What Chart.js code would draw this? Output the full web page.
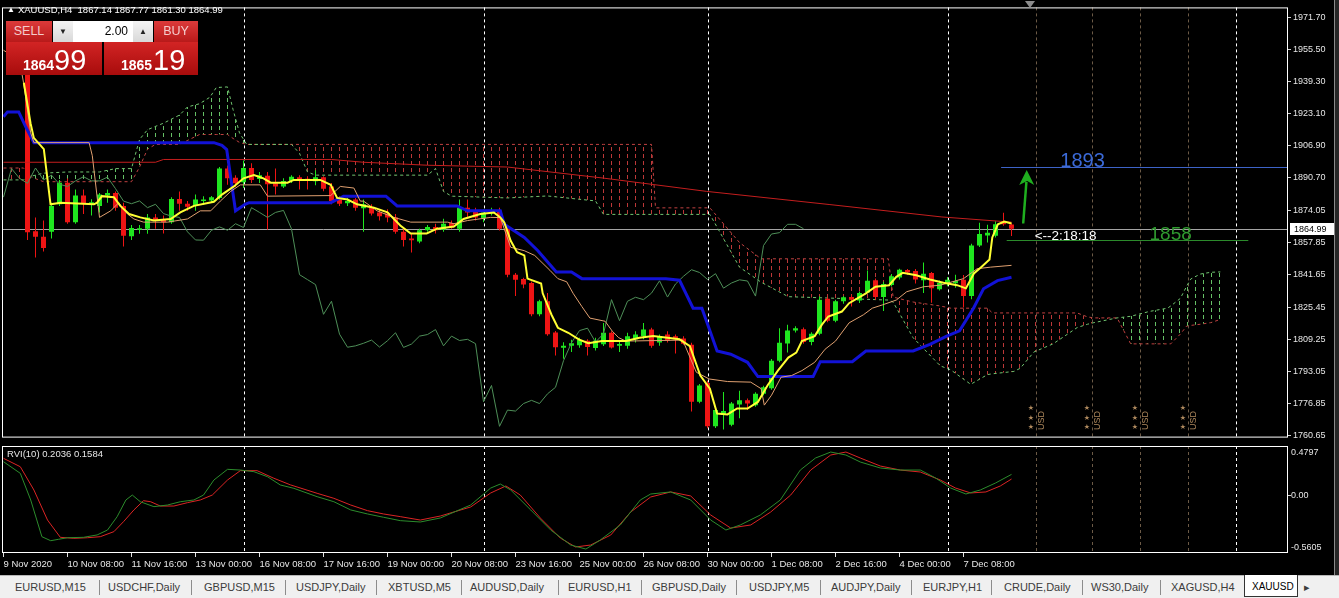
<!DOCTYPE html>
<html>
<head>
<meta charset="utf-8">
<title>XAUUSD,H4</title>
<script src="https://cdn.jsdelivr.net/npm/chart.js@4.4.0/dist/chart.umd.min.js"></script>
<style>
	html, body { margin: 0; padding: 0; background: #000; }
	body { width: 1339px; height: 598px; position: relative; overflow: hidden; font-family: "Liberation Sans", Arial, sans-serif; }
	canvas { position: absolute; left: 0; }
	#main { top: 0; }
	#rvi { top: 444px; }
	#title { position: absolute; left: 7px; top: 4px; color: #fff; font-size: 9.5px; white-space: pre; }
	#title .tri { font-size: 8px; position: relative; top: -1px; margin-right: 3px; }
	#trade div { position: absolute; }
	.redlbl { background: linear-gradient(#dc3a3a, #b81a1a); color: #f4cccc; font-size: 12.5px; text-align: center; line-height: 21px; border-bottom: 1px solid #e06060; height: 21px; }
	.redpx { background: linear-gradient(#d22424, #a80c0c); color: #fff; height: 33px; }
	.redpx b { position: absolute; font-size: 14px; left: 17px; top: 15px; }
	.redpx span { position: absolute; font-size: 29px; top: 2px; }
	#lot { left: 53px; top: 21px; width: 100px; height: 21px; background: #fff; }
	#lot .btn { top: 0; width: 20px; height: 21px; background: linear-gradient(#f4f4f4, #d8d8d8); color: #222; font-size: 8px; text-align: center; line-height: 21px; }
	#lot .val { left: 20px; width: 55px; text-align: right; font-size: 12px; line-height: 21px; color: #000; }
	#shift { position: absolute; left: 1025px; top: 1px; width: 0; height: 0; border-left: 5px solid transparent; border-right: 5px solid transparent; border-top: 7px solid #8c8c8c; }
	#tabs { position: absolute; left: 0; top: 575px; width: 1339px; height: 23px; background: #f0f0f0; border-top: 1px solid #b8b8b8; }
	#tabs span { position: absolute; top: 5px; font-size: 11px; color: #3c3c3c; white-space: nowrap; }
	#tabs i { position: absolute; top: 4px; width: 1px; height: 15px; background: #8c8c8c; }
	#tabs .active { position: absolute; top: -1px; left: 1244px; width: 52px; height: 21px; background: #fff; border: 1px solid #333; border-top: none; }
	#tabs .active span { left: 7px; top: 6px; color: #000; font-size: 10px; }
	#scroll { position: absolute; left: 1334px; top: 0; width: 4px; height: 575px; background: #262626; border-left: 1px solid #8a8a8a; }
</style>
</head>
<body>
<canvas id="main" width="1339" height="445"></canvas>
<canvas id="rvi" width="1339" height="131"></canvas>

<div id="title"><span class="tri">▲</span>XAUUSD,H4  1867.14 1867.77 1861.30 1864.99</div>
<div id="shift"></div>
<div id="trade">
	<div class="redlbl" style="left:6px;top:21px;width:46px;">SELL</div>
	<div id="lot">
		<div class="btn" style="left:0;">▼</div>
		<div class="val">2.00</div>
		<div class="btn" style="left:80px;">▲</div>
	</div>
	<div class="redlbl" style="left:154px;top:21px;width:44px;">BUY</div>
	<div class="redpx" style="left:6px;top:42px;width:96px;"><b>1864</b><span style="left:48px;">99</span></div>
	<div class="redpx" style="left:104px;top:42px;width:94px;"><b>1865</b><span style="left:49px;">19</span></div>
</div>
<div id="tabs"></div>
<div id="scroll"></div>

<script>
// price axis labels and time labels
var priceTicks = [1971.70, 1955.50, 1939.30, 1923.10, 1906.90, 1890.70, 1874.05, 1857.85, 1841.65, 1825.45, 1809.25, 1793.05, 1776.85, 1760.65];
var timeIdx = [0, 8, 16, 24, 32, 40, 48, 56, 64, 72, 80, 88, 96, 104, 112, 120];
var timeLabels = ['9 Nov 2020', '10 Nov 08:00', '11 Nov 16:00', '13 Nov 00:00', '16 Nov 08:00', '17 Nov 16:00', '19 Nov 00:00', '20 Nov 08:00',
	'23 Nov 16:00', '25 Nov 00:00', '26 Nov 08:00', '30 Nov 00:00', '1 Dec 08:00', '2 Dec 16:00', '4 Dec 00:00', '7 Dec 08:00'];

// H4 candles, bar 1 .. bar 126
var firstBar = 1;
var opens = [
	1953.5, 1956.8, 1959.5, 1863.7, 1860.9, 1863.4, 1877.3, 1888.2, 1868.3, 1881.7,
	1877.3, 1876.5, 1881.7, 1883.0, 1876.5, 1861.2, 1864.4, 1864.9, 1870.7, 1869.9,
	1868.3, 1880.0, 1877.6, 1876.5, 1878.9, 1879.2, 1880.5, 1895.3, 1890.7, 1888.4,
	1895.6, 1890.0, 1891.7, 1887.9, 1886.3, 1889.1, 1891.0, 1890.2, 1888.9, 1891.0,
	1886.3, 1879.7, 1877.8, 1879.7, 1875.3, 1875.6, 1873.2, 1872.6, 1870.7, 1863.4,
	1860.0, 1858.5, 1864.2, 1865.9, 1864.5, 1867.8, 1864.9, 1875.6, 1873.9, 1870.2,
	1872.9, 1874.0, 1864.9, 1841.8, 1839.6, 1837.6, 1821.8, 1828.4, 1812.6, 1804.9,
	1805.9, 1806.2, 1808.5, 1804.8, 1806.7, 1812.5, 1806.0, 1805.9, 1809.2, 1810.8,
	1814.1, 1807.6, 1811.6, 1810.8, 1809.6, 1806.5, 1777.7, 1787.2, 1765.3, 1771.0,
	1766.1, 1776.3, 1778.4, 1776.0, 1781.7, 1784.5, 1798.4, 1807.1, 1813.6, 1814.3,
	1807.8, 1812.0, 1829.6, 1818.6, 1828.4, 1830.6, 1828.8, 1832.8, 1839.0, 1830.5,
	1836.6, 1840.4, 1844.2, 1843.6, 1839.0, 1842.7, 1834.4, 1837.6, 1837.5, 1839.2,
	1831.0, 1856.5, 1861.5, 1861.4, 1868.6, 1867.14
];
var highs = [
	1958.0, 1965.0, 1962.0, 1870.7, 1869.1, 1878.1, 1889.6, 1890.3, 1884.7, 1884.7,
	1879.8, 1883.0, 1884.7, 1883.8, 1878.1, 1866.8, 1866.8, 1872.4, 1872.4, 1871.6,
	1880.8, 1883.8, 1878.9, 1882.2, 1881.3, 1881.5, 1896.1, 1896.9, 1892.0, 1899.4,
	1898.0, 1893.6, 1893.6, 1895.3, 1890.4, 1892.0, 1892.0, 1891.5, 1894.5, 1891.5,
	1888.0, 1881.3, 1880.5, 1880.5, 1879.7, 1877.3, 1874.8, 1874.8, 1872.4, 1865.9,
	1862.6, 1865.0, 1866.8, 1867.5, 1870.0, 1869.1, 1879.7, 1879.7, 1875.6, 1874.8,
	1875.6, 1875.6, 1866.0, 1842.6, 1840.2, 1838.4, 1829.2, 1832.5, 1813.4, 1807.7,
	1809.0, 1810.0, 1809.2, 1810.0, 1817.4, 1813.3, 1808.6, 1812.5, 1813.3, 1817.4,
	1815.0, 1811.6, 1813.3, 1811.6, 1810.8, 1807.4, 1786.6, 1788.3, 1774.3, 1782.6,
	1777.6, 1783.3, 1779.3, 1782.5, 1785.8, 1799.3, 1814.8, 1816.5, 1815.8, 1815.1,
	1812.8, 1830.8, 1830.4, 1829.2, 1831.1, 1831.7, 1833.3, 1843.9, 1839.9, 1838.2,
	1842.1, 1844.8, 1844.7, 1844.7, 1848.0, 1843.1, 1838.9, 1840.6, 1841.8, 1841.6,
	1857.4, 1868.0, 1867.0, 1868.8, 1873.0, 1867.77
];
var lows = [
	1951.0, 1955.0, 1859.3, 1850.4, 1853.5, 1860.1, 1876.5, 1867.5, 1867.5, 1872.4,
	1871.6, 1873.2, 1878.1, 1874.0, 1856.0, 1859.3, 1862.4, 1862.4, 1864.9, 1862.6,
	1867.5, 1874.0, 1874.0, 1874.0, 1877.0, 1878.5, 1879.7, 1887.1, 1886.0, 1885.5,
	1888.0, 1888.0, 1864.5, 1882.2, 1885.5, 1888.0, 1884.7, 1884.7, 1886.9, 1883.9,
	1877.3, 1876.5, 1876.5, 1874.0, 1863.4, 1871.6, 1869.1, 1868.3, 1862.4, 1856.0,
	1853.0, 1857.7, 1863.4, 1862.6, 1863.4, 1864.9, 1863.4, 1870.7, 1869.1, 1868.3,
	1871.6, 1864.1, 1840.5, 1831.0, 1835.0, 1820.8, 1820.8, 1811.0, 1801.0, 1799.4,
	1802.8, 1805.0, 1801.0, 1803.6, 1805.8, 1804.6, 1802.8, 1804.4, 1807.6, 1809.2,
	1805.0, 1805.9, 1807.6, 1802.1, 1806.5, 1772.8, 1776.9, 1764.3, 1764.5, 1763.7,
	1765.3, 1769.4, 1773.5, 1775.2, 1780.9, 1783.7, 1797.6, 1802.5, 1812.6, 1806.9,
	1806.2, 1811.2, 1817.8, 1817.8, 1827.1, 1825.8, 1827.5, 1832.5, 1829.2, 1823.5,
	1835.8, 1839.4, 1841.8, 1837.4, 1832.5, 1827.6, 1833.8, 1836.0, 1835.2, 1825.3,
	1829.4, 1855.7, 1858.0, 1860.6, 1866.5, 1861.30
];
var closes = [
	1956.8, 1959.5, 1863.2, 1860.9, 1855.2, 1876.5, 1888.2, 1868.3, 1881.7, 1877.6,
	1878.3, 1882.2, 1883.0, 1875.6, 1861.4, 1865.3, 1865.2, 1870.7, 1869.1, 1868.3,
	1880.0, 1877.6, 1876.0, 1879.7, 1879.7, 1880.9, 1895.3, 1890.4, 1887.9, 1895.6,
	1889.6, 1892.0, 1887.4, 1886.3, 1889.1, 1891.2, 1889.1, 1889.1, 1891.0, 1885.2,
	1878.9, 1877.6, 1879.0, 1875.6, 1877.3, 1872.6, 1871.3, 1870.7, 1863.4, 1859.3,
	1859.2, 1864.2, 1865.9, 1864.2, 1867.5, 1865.6, 1875.6, 1873.2, 1870.7, 1873.2,
	1874.2, 1864.9, 1841.8, 1839.3, 1836.8, 1821.8, 1828.4, 1811.8, 1805.2, 1805.9,
	1807.2, 1808.8, 1805.3, 1808.5, 1812.5, 1805.1, 1806.8, 1810.8, 1811.6, 1814.1,
	1805.9, 1810.8, 1808.6, 1809.2, 1807.0, 1777.7, 1785.9, 1765.3, 1773.5, 1773.0,
	1776.8, 1778.4, 1776.8, 1781.7, 1785.0, 1798.4, 1807.5, 1813.6, 1814.8, 1807.8,
	1812.0, 1829.2, 1818.6, 1828.4, 1830.4, 1829.2, 1832.5, 1838.7, 1830.5, 1837.1,
	1841.0, 1844.3, 1842.9, 1839.4, 1842.3, 1835.0, 1837.6, 1839.2, 1838.6, 1831.0,
	1856.5, 1862.3, 1863.0, 1867.2, 1867.2, 1864.99
];

// Ichimoku cloud (senkou A / B), shared bar positions
var cloudIdx = [0, 2.5, 3.5, 5, 8, 12, 14, 16, 17, 18, 19, 20, 22, 23, 24.5, 25.8, 26.6, 28, 28.7, 29.5, 30.4, 36, 37, 38, 39, 53, 54, 55, 56, 63, 68, 74, 75,
	81, 81.5, 88.3, 92, 94.7, 98.1, 110.6, 111.2, 113.7, 117.1, 118.4, 120.9, 123, 123.6, 126.3, 127.1, 128.8, 131.2, 133, 134.2, 135.5, 136.3, 139.2,
	140.9, 143.3, 145.5, 145.9, 147.1, 147.9, 148.4, 149.6, 150.9, 152.1];
var spanA = [1889.6, 1889.6, 1891.5, 1893.0, 1893.6, 1893.6, 1895.3, 1895.3, 1910.0, 1914.9, 1916.6, 1918.2, 1922.3, 1926.4, 1928.0, 1931.3, 1936.2, 1936.5, 1925.0, 1913.3, 1907.5, 1907.5, 1903.0, 1893.6, 1892.0, 1892.0, 1895.3, 1883.8, 1881.4, 1880.5, 1881.5, 1879.0, 1872.2,
	1872.2, 1872.2, 1872.2, 1845.6, 1838.0, 1830.7, 1829.0, 1828.0, 1810.0, 1795.8, 1793.8, 1786.5, 1791.4, 1791.8, 1793.0, 1794.6, 1802.8, 1806.9, 1811.8, 1815.1, 1816.8, 1817.6, 1820.0,
	1820.8, 1823.3, 1824.9, 1826.0, 1829.8, 1836.0, 1839.6, 1842.1, 1843.0, 1843.2];
var spanB = [1895.6, 1895.6, 1891.0, 1888.7, 1888.7, 1888.7, 1888.7, 1888.7, 1896.0, 1905.1, 1907.5, 1907.5, 1907.5, 1909.5, 1912.5, 1912.5, 1912.5, 1912.5, 1910.5, 1908.5, 1907.5, 1907.5, 1907.5, 1907.5, 1907.5, 1907.5, 1907.5, 1907.5, 1907.5, 1907.5, 1907.5, 1907.5, 1907.5,
	1907.5, 1875.5, 1875.5, 1858.0, 1849.8, 1849.8, 1849.8, 1830.5, 1828.0, 1826.0, 1824.9, 1824.9, 1824.9, 1822.5, 1822.5, 1822.5, 1822.5, 1822.5, 1822.5, 1822.5, 1820.5, 1820.0, 1820.0,
	1806.9, 1806.9, 1806.9, 1806.9, 1811.8, 1815.9, 1816.2, 1816.8, 1817.6, 1819.2];

// chikou span (bars 0 .. 100)
var chikou = [
	1880.9, 1895.3, 1890.4, 1887.9, 1895.6, 1889.6, 1892.0, 1887.4, 1886.3, 1889.1,
	1891.2, 1889.1, 1889.1, 1891.0, 1885.2, 1878.9, 1877.6, 1879.0, 1875.6, 1877.3,
	1872.6, 1871.3, 1870.7, 1863.4, 1859.3, 1859.2, 1864.2, 1865.9, 1864.2, 1867.5,
	1865.6, 1875.6, 1873.2, 1870.7, 1873.2, 1874.2, 1864.9, 1841.8, 1839.3, 1836.8,
	1821.8, 1828.4, 1811.8, 1805.2, 1805.9, 1807.2, 1808.8, 1805.3, 1808.5, 1812.5,
	1805.1, 1806.8, 1810.8, 1811.6, 1814.1, 1805.9, 1810.8, 1808.6, 1809.2, 1807.0,
	1777.7, 1785.9, 1765.3, 1773.5, 1773.0, 1776.8, 1778.4, 1776.8, 1781.7, 1785.0,
	1798.4, 1807.5, 1813.6, 1814.8, 1807.8, 1812.0, 1829.2, 1818.6, 1828.4, 1830.4,
	1829.2, 1832.5, 1838.7, 1830.5, 1837.1, 1841.0, 1844.3, 1842.9, 1839.4, 1842.3,
	1835.0, 1837.6, 1839.2, 1838.6, 1831.0, 1856.5, 1862.3, 1863.0, 1867.2, 1867.2,
	1864.99
];

// lines as [bar, price]
var kijun = [[0, 1921.5], [0.5, 1923.9], [1.9, 1923.9], [2.75, 1916.6], [3.8, 1908.4], [26.3, 1908.4], [27.3, 1907.0], [27.9, 1904.9], [29.0, 1874.0], [30.2, 1877.3],
	[30.7, 1878.1], [40.9, 1878.1], [42.1, 1880.5], [42.5, 1881.4], [47.8, 1881.4], [49.2, 1876.5], [56.7, 1876.5], [58.0, 1874.0], [62.1, 1874.0], [62.6, 1867.2],
	[65.1, 1860.6], [66.8, 1853.9], [69.1, 1843.1], [71.0, 1843.1], [72.3, 1839.8], [82.8, 1839.8], [84.5, 1839.0], [86.2, 1824.9], [87.3, 1824.9], [89.2, 1803.3],
	[90.9, 1801.7], [93.0, 1797.6], [94.3, 1790.4], [101.2, 1790.4], [102.1, 1797.9], [106.1, 1797.9], [107.8, 1803.3], [113.7, 1803.3], [115.8, 1806.6], [117.9, 1810.8],
	[119.5, 1813.5], [121.25, 1824.9], [122.5, 1834.7], [124.25, 1838.8], [126, 1840.5]];
var tenkan = [[0, 1955.0], [2.0, 1950.0], [2.5, 1938.7], [3.4, 1913.3], [3.8, 1908.4], [10.7, 1908.4], [11.1, 1901.8], [12.0, 1870.7], [13.4, 1874.0], [14.4, 1878.1],
	[15.5, 1872.4], [16.3, 1869.9], [17.5, 1868.3], [20.5, 1868.3], [23.0, 1869.9], [24.6, 1874.0], [25.9, 1874.0], [27.1, 1878.9], [28.4, 1883.8], [29.6, 1887.1],
	[32.1, 1887.1], [33.0, 1881.4], [40.9, 1881.7], [42.1, 1886.3], [43.8, 1885.5], [44.6, 1878.9], [45.0, 1878.9], [46.7, 1874.0], [48.8, 1870.7], [50.9, 1868.3],
	[55.5, 1868.3], [56.3, 1867.5], [58.0, 1869.1], [60.9, 1870.7], [62.1, 1870.6], [63.4, 1855.6], [65.1, 1853.9], [66.4, 1851.5], [68.3, 1844.0], [69.3, 1839.8],
	[70.4, 1838.2], [71.2, 1832.4], [72.3, 1825.7], [73.3, 1819.9], [75.2, 1818.3], [76.1, 1813.3], [76.9, 1810.0], [77.8, 1808.3], [84.9, 1808.8], [86.6, 1792.6],
	[88.2, 1789.2], [90.5, 1787.9], [93.4, 1787.6], [94.7, 1784.3], [95.1, 1776.0], [96.0, 1781.0], [97.2, 1790.1], [98.5, 1790.9], [99.8, 1793.4], [101.4, 1797.6],
	[102.7, 1804.2], [104.0, 1808.3], [105.7, 1817.5], [107.5, 1821.6], [108.6, 1824.9], [109.9, 1826.6], [111.6, 1829.0], [112.9, 1833.2], [115.0, 1835.7], [117.1, 1836.5],
	[120.0, 1839.8], [121.7, 1844.8], [123.4, 1845.6], [126, 1846.5]];
var fastMa = [[2.54, 1938.7], [3.38, 1918.2], [3.79, 1910.8], [5.04, 1905.1], [5.88, 1877.3], [7.13, 1878.1], [11.3, 1877.3], [11.7, 1878.1], [12.3, 1881.4], [13.8, 1880.9],
	[14.6, 1876.5], [15.7, 1872.4], [17.1, 1870.7], [18.8, 1869.1], [20.9, 1869.9], [22.1, 1873.2], [23.8, 1876.5], [26.3, 1878.6], [27.3, 1882.2], [28.8, 1886.3],
	[30.0, 1890.4], [31.3, 1892.0], [32.5, 1890.4], [33.4, 1888.2], [35.5, 1888.2], [36.3, 1889.6], [39.6, 1889.6], [40.9, 1887.1], [41.7, 1880.5], [43.0, 1879.7],
	[44.2, 1877.3], [46.3, 1875.6], [48.0, 1873.2], [49.6, 1866.6], [50.9, 1862.6], [52.9, 1862.6], [54.2, 1865.0], [56.3, 1866.1], [57.5, 1869.9], [59.6, 1872.4],
	[61.3, 1873.2], [62.1, 1870.7], [62.6, 1868.1], [63.4, 1858.9], [64.2, 1853.1], [65.1, 1851.5], [65.5, 1839.8], [67.2, 1837.3], [67.4, 1832.4], [68.5, 1821.6],
	[69.3, 1815.0], [70.6, 1812.5], [71.9, 1809.2], [73.1, 1807.2], [74.8, 1808.3], [77.8, 1808.3], [79.5, 1810.0], [81.2, 1810.8], [84.5, 1809.2], [85.8, 1805.8],
	[87.1, 1790.9], [88.3, 1784.3], [89.2, 1771.8], [90.5, 1771.3], [91.7, 1774.3], [93.0, 1774.3], [94.3, 1777.6], [95.5, 1785.9], [96.8, 1793.4], [98.1, 1800.0],
	[99.1, 1802.5], [99.8, 1808.3], [101.4, 1810.8], [102.3, 1816.6], [103.1, 1820.7], [104.8, 1823.2], [105.7, 1827.4], [107.8, 1832.4], [109.0, 1835.7], [110.7, 1836.5],
	[111.6, 1840.7], [112.4, 1842.7], [114.1, 1841.5], [115.8, 1839.4], [117.5, 1837.7], [119.2, 1836.5], [120.3, 1834.9], [121.3, 1842.4], [122.2, 1845.6], [123.25, 1849.5],
	[123.6, 1860.6], [124.3, 1867.2], [125.1, 1868.6], [126, 1867.6]];
var slowMa = [[0, 1898.5], [19, 1898.5], [20, 1899.9], [41, 1899.9], [45, 1898.5], [53, 1897.0], [63, 1896.1], [75, 1890.5], [87.9, 1883.8], [103.2, 1877.2], [117.3, 1870.9], [126, 1868.3]];

// RVI(10): main (green) and signal (red), [bar, value]
var rviMain = [[0, 0.327], [2.1, 0.214], [3.4, -0.045], [4.8, -0.402], [5.9, -0.441], [6.9, -0.427], [8, -0.412], [10, -0.408], [11.7, -0.385], [13, -0.337],
	[14.2, -0.208], [15.3, -0.045], [16.1, 0.003], [17.1, -0.062], [18.8, -0.110], [20.5, -0.094], [22.1, -0.062], [23.8, -0.045], [25, 0.003], [26.3, 0.149],
	[28, 0.253], [29.6, 0.246], [31.3, 0.230], [33, 0.181], [34.6, 0.101], [36.3, 0.068], [39.2, -0.013], [41.3, -0.062], [43.4, -0.142], [45.5, -0.181],
	[47.5, -0.213], [49.6, -0.246], [52.1, -0.259], [54.6, -0.220], [58.4, -0.094], [60.9, 0.071], [62.1, 0.110], [63.4, 0.052], [65.9, -0.142], [68.4, -0.337],
	[70.9, -0.483], [72.8, -0.522], [74.6, -0.434], [77.1, -0.288], [79.6, -0.045], [80.9, 0.013], [83.4, 0.033], [85.9, -0.045], [88.4, -0.240], [90.3, -0.337],
	[92.1, -0.288], [94.6, -0.191], [97.1, -0.045], [99.6, 0.246], [101.5, 0.363], [103.4, 0.421], [105.3, 0.392], [107.1, 0.324], [109.6, 0.266], [112.1, 0.246],
	[114.6, 0.246], [116.5, 0.169], [118.4, 0.071], [120.3, 0.013], [122.1, 0.052], [124, 0.120], [126, 0.2036]];
var rviSignal = [[0, 0.360], [2.1, 0.278], [3.8, 0.052], [5.5, -0.240], [7.1, -0.408], [8.8, -0.418], [10.5, -0.412], [12.1, -0.402], [13.8, -0.353], [15, -0.256],
	[16.3, -0.142], [17.5, -0.052], [18.4, -0.062], [19.6, -0.104], [21.3, -0.104], [23, -0.071], [24.6, -0.045], [26.1, 0.003], [28, 0.149], [29.6, 0.240],
	[31.7, 0.240], [33.8, 0.166], [35.9, 0.101], [39.2, 0.020], [41.3, -0.029], [43.4, -0.094], [45.5, -0.149], [47.5, -0.181], [49.6, -0.207], [52.1, -0.240],
	[54.6, -0.201], [58.4, -0.113], [60.9, 0.023], [62.8, 0.091], [64.6, 0.003], [67.1, -0.220], [69.6, -0.415], [71.5, -0.502], [73.4, -0.483], [75.9, -0.386],
	[78.4, -0.162], [80.9, -0.016], [83.4, 0.033], [85.9, -0.006], [88.4, -0.191], [90.9, -0.318], [93.4, -0.288], [95.9, -0.162], [98.4, 0.003], [100.9, 0.246],
	[103.4, 0.392], [105.3, 0.421], [107.1, 0.363], [109.6, 0.285], [112.1, 0.246], [114.6, 0.227], [117.1, 0.149], [119, 0.071], [120.9, 0.023], [122.8, 0.033],
	[124.6, 0.091], [126, 0.1584]];

// objects on the chart
var bid = 1864.99;
var weekSeps = [30, 60, 88, 118, 154];
var eventIdx = [129, 136, 142, 148];
var levels = [1896.1, 1859.3];
var levelText = ['1893', '1858'];
var countdown = '<--2:18:18';
var rviTicks = [0.4797, 0, -0.5605];

var tabNames = ['EURUSD,M15', 'USDCHF,Daily', 'GBPUSD,M15', 'USDJPY,Daily', 'XBTUSD,M5', 'AUDUSD,Daily', 'EURUSD,H1',
	'GBPUSD,Daily', 'USDJPY,M5', 'AUDJPY,Daily', 'EURJPY,H1', 'CRUDE,Daily', 'WS30,Daily', 'XAGUSD,H4'];
var tabX = [15, 108, 204, 296, 388, 470, 568, 652, 749, 831, 923, 1004, 1091, 1171];
var sepX = [99, 191, 285, 376, 461, 558, 641, 736, 820, 911, 991, 1082, 1160];

var X_MIN = -0.1875, X_MAX = 160.5625;
var FONT = '"Liberation Sans", Arial, sans-serif';
Chart.defaults.font.family = FONT;

function pts(pairs) {
	return pairs.map(function(p) { return {x: p[0], y: p[1]}; });
}
function series(xs, ys) {
	return ys.map(function(v, i) { return {x: xs[i], y: v}; });
}
function hatch(color) {
	var c = document.createElement('canvas');
	c.width = 8; c.height = 7;
	var g = c.getContext('2d');
	g.fillStyle = color;
	g.fillRect(3, 0, 1, 4);
	return document.getElementById('main').getContext('2d').createPattern(c, 'repeat');
}
function vline(ctx, x, y0, y1) {
	ctx.beginPath(); ctx.moveTo(x, y0); ctx.lineTo(x, y1); ctx.stroke();
}
function hline(ctx, x0, x1, y) {
	ctx.beginPath(); ctx.moveTo(x0, y); ctx.lineTo(x1, y); ctx.stroke();
}
function candleColor(ctx) {
	var i = ctx.dataIndex;
	return closes[i] >= opens[i] ? '#1fe61f' : '#ee1414';
}
function drawSeparators(chart) {
	var ctx = chart.ctx, a = chart.chartArea, xs = chart.scales.x;
	ctx.save();
	ctx.lineWidth = 1;
	ctx.setLineDash([3, 3]);
	ctx.strokeStyle = '#ffffff';
	weekSeps.forEach(function(i) {
		var x = Math.round(xs.getPixelForValue(i)) + 0.5;
		vline(ctx, x, a.top, a.bottom);
	});
	ctx.strokeStyle = '#6c5a46';
	eventIdx.forEach(function(i) {
		var x = Math.round(xs.getPixelForValue(i)) + 0.5;
		vline(ctx, x, a.top, a.bottom);
	});
	ctx.restore();
}
function drawFrame(chart) {
	var ctx = chart.ctx, a = chart.chartArea;
	ctx.save();
	ctx.strokeStyle = '#ffffff';
	ctx.lineWidth = 1;
	ctx.strokeRect(a.left + 0.5, a.top + 0.5, a.right - a.left - 1, a.bottom - a.top - 1);
	ctx.restore();
}

var mainOverlay = {
	id: 'mainOverlay',
	beforeDatasetsDraw: function(chart) {
		var ctx = chart.ctx, a = chart.chartArea, ys = chart.scales.y;
		drawSeparators(chart);
		ctx.save();
		ctx.strokeStyle = '#a4a4a4';
		ctx.lineWidth = 1;
		hline(ctx, a.left, a.right, Math.round(ys.getPixelForValue(bid)) + 0.5);
		ctx.restore();
	},
	afterDatasetsDraw: function(chart) {
		var ctx = chart.ctx, a = chart.chartArea, xs = chart.scales.x, ys = chart.scales.y;
		ctx.save();
		ctx.beginPath(); ctx.rect(a.left, a.top, a.right - a.left, a.bottom - a.top); ctx.clip();

		// horizontal levels with their labels
		var y1 = Math.round(ys.getPixelForValue(levels[0])) + 0.5;
		var y2 = Math.round(ys.getPixelForValue(levels[1])) + 0.5;
		ctx.lineWidth = 1;
		ctx.strokeStyle = '#3d63c8';
		hline(ctx, xs.getPixelForValue(124.7), a.right, y1);
		ctx.strokeStyle = '#2b8a2b';
		hline(ctx, xs.getPixelForValue(125.4), xs.getPixelForValue(155.6), y2);
		ctx.textBaseline = 'alphabetic';
		ctx.textAlign = 'left';
		ctx.font = '20px ' + FONT;
		ctx.fillStyle = '#3b6ad8';
		ctx.fillText(levelText[0], xs.getPixelForValue(132.1), y1 - 0.5);
		ctx.font = '19px ' + FONT;
		ctx.fillStyle = '#2f9a2f';
		ctx.fillText(levelText[1], xs.getPixelForValue(143.25), y2 - 0.5);

		// countdown to bar close
		ctx.font = '13.5px ' + FONT;
		ctx.fillStyle = '#ffffff';
		ctx.fillText(countdown, xs.getPixelForValue(128.9), y2 - 0.5);

		// up arrow
		var x0 = xs.getPixelForValue(127.46), yb = ys.getPixelForValue(1867.6);
		var x1 = xs.getPixelForValue(127.9), yt = ys.getPixelForValue(1894.6);
		ctx.strokeStyle = '#1fae1f';
		ctx.fillStyle = '#1fae1f';
		ctx.lineWidth = 2.5;
		ctx.beginPath(); ctx.moveTo(x0, yb); ctx.lineTo(x1 - 0.3, yt + 12); ctx.stroke();
		ctx.beginPath();
		ctx.moveTo(x1, yt);
		ctx.lineTo(x1 + 7.5, yt + 15);
		ctx.lineTo(x1 + 0.5, yt + 11);
		ctx.lineTo(x1 - 7.5, yt + 15);
		ctx.closePath(); ctx.fill();

		// calendar events
		ctx.fillStyle = '#b08a5e';
		eventIdx.forEach(function(i) {
			var x = Math.round(xs.getPixelForValue(i)) + 0.5;
			ctx.font = '7px "DejaVu Sans"';
			ctx.textAlign = 'center';
			ctx.textBaseline = 'middle';
			[29, 19.5, 10].forEach(function(d) { ctx.fillText('★', x - 5.5, a.bottom - d); });
			ctx.save();
			ctx.translate(x + 5.5, a.bottom - 17);
			ctx.rotate(-Math.PI / 2);
			ctx.font = '9px ' + FONT;
			ctx.fillText('USD', 0, 0);
			ctx.restore();
		});
		ctx.restore();

		drawFrame(chart);

		// bid price label on the axis
		var yb2 = Math.round(ys.getPixelForValue(bid));
		ctx.save();
		ctx.fillStyle = '#ffffff';
		ctx.fillRect(a.right + 2, yb2 - 6, 46, 12);
		ctx.fillStyle = '#000000';
		ctx.font = '9px ' + FONT;
		ctx.textBaseline = 'middle';
		ctx.textAlign = 'left';
		ctx.fillText(bid.toFixed(2), a.right + 6, yb2 + 0.5);
		ctx.restore();
	}
};

var rviOverlay = {
	id: 'rviOverlay',
	beforeDatasetsDraw: function(chart) { drawSeparators(chart); },
	afterDatasetsDraw: function(chart) {
		var ctx = chart.ctx, a = chart.chartArea, ys = chart.scales.y;
		drawFrame(chart);
		ctx.save();
		ctx.fillStyle = '#e6e6e6';
		ctx.font = '9.5px ' + FONT;
		ctx.textBaseline = 'middle';
		ctx.textAlign = 'left';
		ctx.fillText('RVI(10) ' + rviMain[rviMain.length - 1][1].toFixed(4) + ' ' + rviSignal[rviSignal.length - 1][1].toFixed(4), a.left + 5, a.top + 8);
		ctx.font = '9px ' + FONT;
		ctx.strokeStyle = '#d0d0d0';
		rviTicks.forEach(function(v) {
			var y = Math.min(Math.max(ys.getPixelForValue(v), a.top + 7), a.bottom - 5);
			ctx.fillText(v === 0 ? '0.00' : v.toFixed(4), a.right + 3, y);
			if (v === 0) { hline(ctx, a.right, a.right + 3, Math.round(y) + 0.5); }
		});
		ctx.restore();
	}
};

var wickData = opens.map(function(o, i) { return {x: i + firstBar, y: [lows[i], highs[i]]}; });
var bodyData = opens.map(function(o, i) { return {x: i + firstBar, y: [o, closes[i]]}; });
var chikouData = chikou.map(function(v, i) { return {x: i, y: v}; });

var lineBase = {type: 'line', pointRadius: 0, fill: false, tension: 0};

var mainChart = new Chart(document.getElementById('main'), {
	type: 'line',
	data: {
		datasets: [
			Object.assign({}, lineBase, {data: series(cloudIdx, spanB), borderColor: '#c04040', borderWidth: 1, borderDash: [3, 3], order: 9}),
			Object.assign({}, lineBase, {data: series(cloudIdx, spanA), borderColor: '#70c470', borderWidth: 1, borderDash: [3, 3], order: 8,
				fill: {target: 0, above: hatch('#66c066'), below: hatch('#bc3838')}}),
			{type: 'bar', data: wickData, backgroundColor: candleColor, grouped: false, maxBarThickness: 1, order: 7},
			{type: 'bar', data: bodyData, backgroundColor: candleColor, grouped: false, maxBarThickness: 5, minBarLength: 1, order: 6},
			Object.assign({}, lineBase, {data: pts(slowMa), borderColor: '#c41e1e', borderWidth: 1, order: 5}),
			Object.assign({}, lineBase, {data: chikouData, borderColor: '#4e8f58', borderWidth: 1, order: 4}),
			Object.assign({}, lineBase, {data: pts(kijun), borderColor: '#1212d6', borderWidth: 3, order: 3}),
			Object.assign({}, lineBase, {data: pts(tenkan), borderColor: '#e0a070', borderWidth: 1, order: 2}),
			Object.assign({}, lineBase, {data: pts(fastMa), borderColor: '#ffff33', borderWidth: 2, order: 1})
		]
	},
	options: {
		responsive: false,
		animation: false,
		events: [],
		devicePixelRatio: 1,
		layout: {padding: {left: 2, top: 1, right: 0, bottom: 2}},
		plugins: {legend: {display: false}, tooltip: {enabled: false}},
		scales: {
			x: {type: 'linear', min: X_MIN, max: X_MAX, offset: false, display: false},
			y: {
				position: 'right', min: 1759.62, max: 1976.61,
				afterFit: function(s) { s.width = 51; },
				afterBuildTicks: function(s) { s.ticks = priceTicks.map(function(v) { return {value: v}; }); },
				ticks: {color: '#e6e6e6', font: {size: 9}, padding: 2, callback: function(v) { return Number(v).toFixed(2); }},
				grid: {drawOnChartArea: false, drawTicks: true, tickLength: 3, color: '#d0d0d0'},
				border: {display: false}
			}
		}
	},
	plugins: [mainOverlay]
});

var rviChart = new Chart(document.getElementById('rvi'), {
	type: 'line',
	data: {
		datasets: [
			Object.assign({}, lineBase, {data: pts(rviMain), borderColor: '#2c8c2c', borderWidth: 1}),
			Object.assign({}, lineBase, {data: pts(rviSignal), borderColor: '#dc2424', borderWidth: 1})
		]
	},
	options: {
		responsive: false,
		animation: false,
		events: [],
		devicePixelRatio: 1,
		layout: {padding: {left: 2, top: 2, right: 0, bottom: 0}},
		plugins: {legend: {display: false}, tooltip: {enabled: false}},
		scales: {
			x: {
				type: 'linear', min: X_MIN, max: X_MAX, offset: false,
				afterFit: function(s) { s.height = 22; },
				afterBuildTicks: function(s) { s.ticks = timeIdx.map(function(v) { return {value: v}; }); },
				ticks: {autoSkip: false, maxRotation: 0, align: 'start', color: '#e6e6e6', font: {size: 9.5}, padding: 2,
					callback: function(v, i) { return timeLabels[i]; }},
				grid: {drawOnChartArea: false, drawTicks: true, tickLength: 4, color: '#e0e0e0'},
				border: {display: false}
			},
			y: {
				position: 'right', min: -0.5605, max: 0.4797,
				afterFit: function(s) { s.width = 51; },
				ticks: {display: false},
				grid: {display: false},
				border: {display: false}
			}
		}
	},
	plugins: [rviOverlay]
});

// symbol tabs
var tabs = document.getElementById('tabs');
tabNames.forEach(function(name, i) {
	var s = document.createElement('span');
	s.textContent = name;
	s.style.left = tabX[i] + 'px';
	tabs.appendChild(s);
});
sepX.forEach(function(x) {
	var d = document.createElement('i');
	d.style.left = x + 'px';
	tabs.appendChild(d);
});
var act = document.createElement('div');
act.className = 'active';
act.innerHTML = '<span>XAUUSD</span>';
tabs.appendChild(act);
var more = document.createElement('span');
more.textContent = '▸';
more.style.left = '1304px';
tabs.appendChild(more);
</script>
</body>
</html>
